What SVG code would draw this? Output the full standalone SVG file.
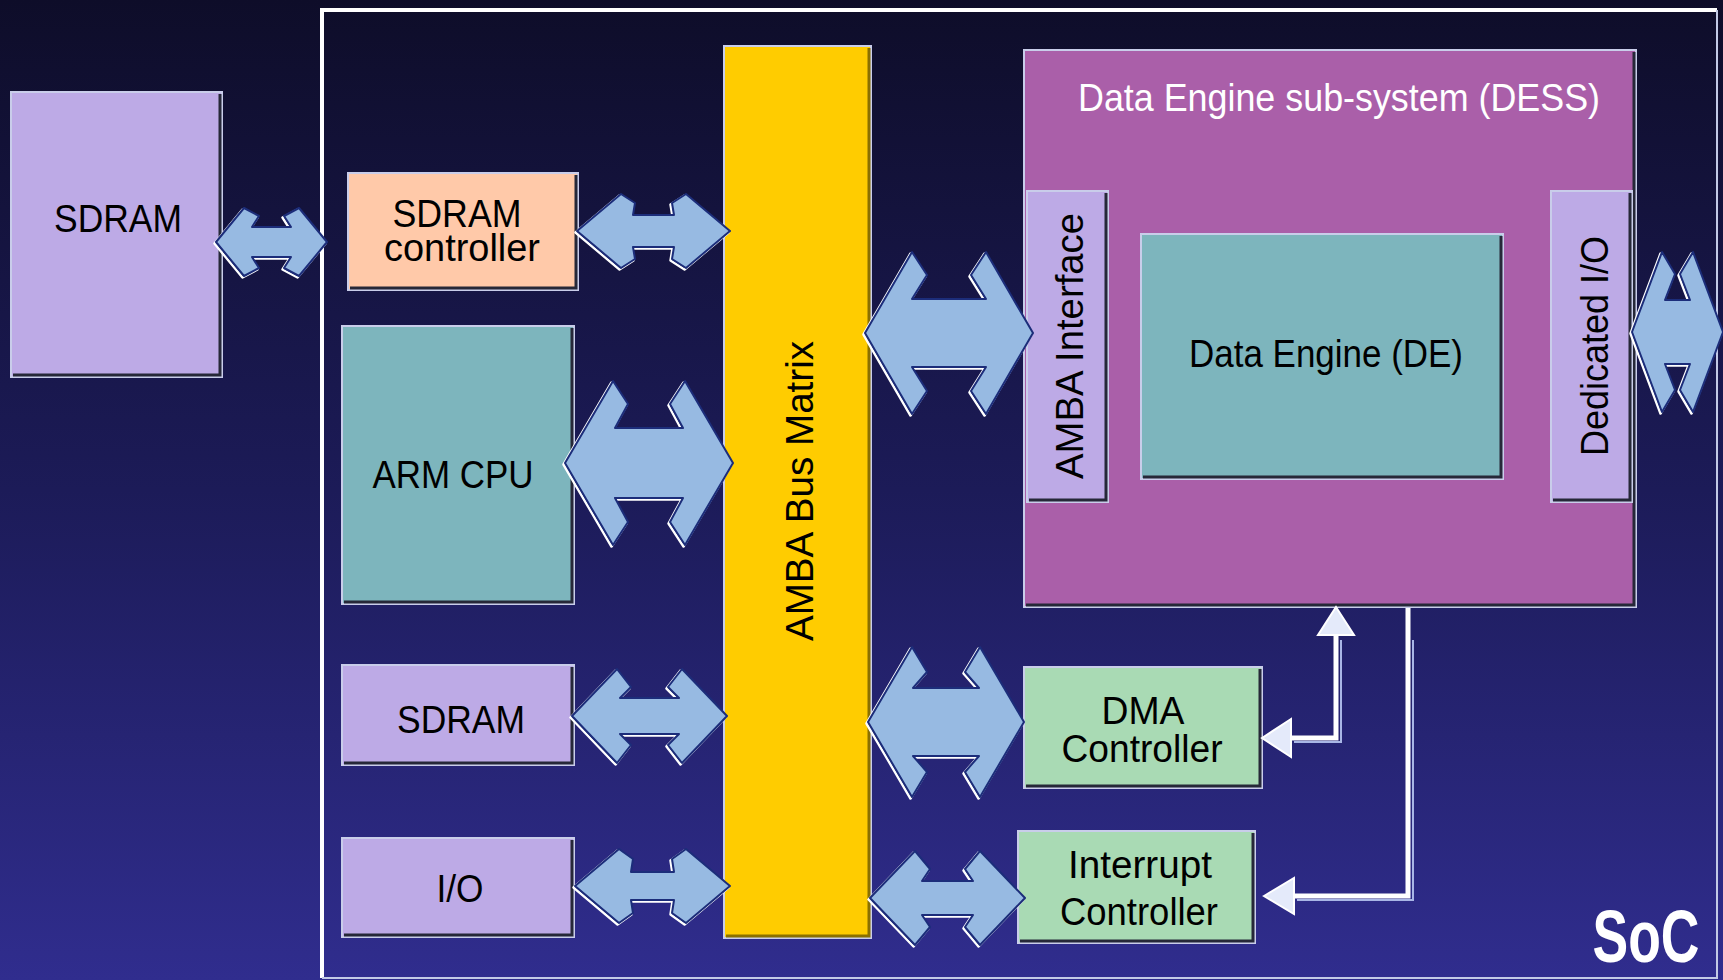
<svg xmlns="http://www.w3.org/2000/svg" xmlns:xlink="http://www.w3.org/1999/xlink" width="1723" height="980" viewBox="0 0 1723 980">
<defs>
<linearGradient id="bg" x1="0" y1="0" x2="0" y2="1">
<stop offset="0" stop-color="#0e0d29"/>
<stop offset="0.5" stop-color="#1c1b58"/>
<stop offset="1" stop-color="#302d8e"/>
</linearGradient>
<polygon id="a1" points="327,242 299,208 284,216 291,227 252,227 259,216 244,208 216,242 244,276 259,268 252,257 291,257 284,268 299,276"/>
<polygon id="a2" points="730,231 686,194 672,203 674,215 633,215 635,203 621,194 577,231 621,268 635,259 633,247 674,247 672,259 686,268"/>
<polygon id="a3" points="733,463 685,381 670,404 683,428 615,428 628,404 613,381 565,463 613,545 628,522 615,498 683,498 670,522 685,545"/>
<polygon id="a4" points="727,716 682,669 668,687 679,698 620,698 631,687 617,669 572,716 617,763 631,745 620,734 679,734 668,745 682,763"/>
<polygon id="a5" points="730,886 686,849 672,859 674,872 631,872 633,859 619,849 575,886 619,923 633,913 631,900 674,900 672,913 686,923"/>
<polygon id="a6" points="1033,333 986,252 971,275 986,299 912,299 927,275 912,252 865,333 912,414 927,391 912,367 986,367 971,391 986,414"/>
<polygon id="a7" points="1723,332 1693,252 1680,274 1690,300 1665,300 1675,274 1662,252 1632,332 1662,412 1675,390 1665,364 1690,364 1680,390 1693,412"/>
<polygon id="a8" points="1024,722 980,647 965,672 979,688 913,688 927,672 912,647 868,722 912,797 927,772 913,756 979,756 965,772 980,797"/>
<polygon id="a9" points="1025,898 980,851 965,869 973,881 922,881 930,869 915,851 870,898 915,945 930,927 922,915 973,915 965,927 980,945"/>
</defs>
<style>
.box{stroke:#c9cdea;stroke-width:2}
.shd{fill:none;stroke:#262838;stroke-width:3}
.lav{fill:#bdaae6}
.teal{fill:#7db5bd}
.peach{fill:#ffc9a9}
.green{fill:#a9dab4}
.t{font-family:"Liberation Sans",Arial,sans-serif;font-size:38px;fill:#000;text-anchor:middle}
.w{fill:#fff}
.halo{fill:none;stroke:#ffffff;stroke-width:2.5;stroke-linejoin:round}
.bus{fill:#97bae2;stroke:#1c2d7a;stroke-width:2;stroke-linejoin:round}
.wire{fill:none;stroke:#ffffff;stroke-width:5}
.wsh{fill:none;stroke:#a9b6e6;stroke-width:2}
.head{fill:#e4eafa;stroke:#ffffff;stroke-width:2;stroke-linejoin:miter}
</style>
<rect x="0" y="0" width="1723" height="980" fill="url(#bg)"/>

<g id="soc">
<path d="M322 978 V10 H1717" fill="none" stroke="#ffffff" stroke-width="4"/>
<path d="M1717 10 V978 H322" fill="none" stroke="#c3cae6" stroke-width="2"/>
<text x="1646" y="962" font-family="Liberation Sans, Arial, sans-serif" font-weight="bold" font-size="74" fill="#ffffff" text-anchor="middle" textLength="107" lengthAdjust="spacingAndGlyphs">SoC</text>
</g>

<g id="sdram-ext">
<rect class="box lav" x="11" y="92" width="211" height="285"/>
<path class="shd" d="M13 375 H220 V94"/>
<text class="t" x="118" y="232" font-size="40" textLength="128" lengthAdjust="spacingAndGlyphs">SDRAM</text>
</g>

<g id="sdram-ctrl">
<rect class="box peach" x="348" y="173" width="230" height="117"/>
<path class="shd" d="M350 288 H576 V175"/>
<text class="t" font-size="35"><tspan x="457" y="227" textLength="129" lengthAdjust="spacingAndGlyphs">SDRAM</tspan><tspan x="462" y="261" textLength="156" lengthAdjust="spacingAndGlyphs">controller</tspan></text>
</g>

<g id="arm-cpu">
<rect class="box teal" x="342" y="326" width="232" height="278"/>
<path class="shd" d="M344 602 H572 V328"/>
<text class="t" x="453" y="488" font-size="41" textLength="161" lengthAdjust="spacingAndGlyphs">ARM CPU</text>
</g>

<g id="sdram-int">
<rect class="box lav" x="342" y="665" width="232" height="100"/>
<path class="shd" d="M344 763 H572 V667"/>
<text class="t" x="461" y="733" font-size="41" textLength="128" lengthAdjust="spacingAndGlyphs">SDRAM</text>
</g>

<g id="io">
<rect class="box lav" x="342" y="838" width="232" height="99"/>
<path class="shd" d="M344 935 H572 V840"/>
<text class="t" x="460" y="902" font-size="40" textLength="47" lengthAdjust="spacingAndGlyphs">I/O</text>
</g>

<g id="amba-bus">
<rect class="box" fill="#ffcc00" x="724" y="46" width="147" height="892"/>
<path d="M726 936 H869 V48" fill="none" stroke="#8a7000" stroke-width="3"/>
<text class="t" x="813" y="491" font-size="40" transform="rotate(-90 813 491)" textLength="300" lengthAdjust="spacingAndGlyphs">AMBA Bus Matrix</text>
</g>

<g id="dess">
<rect class="box" fill="#aa5fa9" x="1024" y="50" width="612" height="557"/>
<path class="shd" d="M1026 605 H1634 V52"/>
<text class="t w" x="1339" y="111" font-size="39" textLength="522" lengthAdjust="spacingAndGlyphs">Data Engine sub-system (DESS)</text>
</g>

<g id="amba-if">
<rect class="box lav" x="1027" y="191" width="81" height="311"/>
<path class="shd" d="M1029 500 H1106 V193"/>
<text class="t" x="1083" y="346" font-size="41" transform="rotate(-90 1083 346)" textLength="266" lengthAdjust="spacingAndGlyphs">AMBA Interface</text>
</g>

<g id="de">
<rect class="box teal" x="1141" y="234" width="362" height="245"/>
<path class="shd" d="M1143 477 H1501 V236"/>
<text class="t" x="1326" y="367" font-size="38" textLength="274" lengthAdjust="spacingAndGlyphs">Data Engine (DE)</text>
</g>

<g id="ded-io">
<rect class="box lav" x="1551" y="191" width="81" height="311"/>
<path class="shd" d="M1553 500 H1630 V193"/>
<text class="t" x="1608" y="346" font-size="40" transform="rotate(-90 1608 346)" textLength="220" lengthAdjust="spacingAndGlyphs">Dedicated I/O</text>
</g>

<g id="dma">
<rect class="box green" x="1024" y="667" width="238" height="121"/>
<path class="shd" d="M1026 786 H1260 V669"/>
<text class="t" font-size="37"><tspan x="1143" y="724" textLength="83" lengthAdjust="spacingAndGlyphs">DMA</tspan><tspan x="1142" y="762" textLength="161" lengthAdjust="spacingAndGlyphs">Controller</tspan></text>
</g>

<g id="intc">
<rect class="box green" x="1018" y="831" width="237" height="112"/>
<path class="shd" d="M1020 941 H1253 V833"/>
<text class="t" font-size="38"><tspan x="1140" y="878" textLength="144" lengthAdjust="spacingAndGlyphs">Interrupt</tspan><tspan x="1139" y="925" textLength="158" lengthAdjust="spacingAndGlyphs">Controller</tspan></text>
</g>

<g id="connectors">
<use xlink:href="#a1" class="halo" transform="translate(-1.5 1.5)"/><use xlink:href="#a1" class="bus"/>
<use xlink:href="#a2" class="halo" transform="translate(-1.5 1.5)"/><use xlink:href="#a2" class="bus"/>
<use xlink:href="#a3" class="halo" transform="translate(-1.5 1.5)"/><use xlink:href="#a3" class="bus"/>
<use xlink:href="#a4" class="halo" transform="translate(-1.5 1.5)"/><use xlink:href="#a4" class="bus"/>
<use xlink:href="#a5" class="halo" transform="translate(-1.5 1.5)"/><use xlink:href="#a5" class="bus"/>
<use xlink:href="#a6" class="halo" transform="translate(-1.5 1.5)"/><use xlink:href="#a6" class="bus"/>
<use xlink:href="#a7" class="halo" transform="translate(-1.5 1.5)"/><use xlink:href="#a7" class="bus"/>
<use xlink:href="#a8" class="halo" transform="translate(-1.5 1.5)"/><use xlink:href="#a8" class="bus"/>
<use xlink:href="#a9" class="halo" transform="translate(-1.5 1.5)"/><use xlink:href="#a9" class="bus"/>
<path class="wsh" d="M1294 742 H1341 V640"/>
<path class="wire" d="M1291 738 H1336 V634"/>
<polygon class="head" points="1336,607 1318,635 1354,635"/>
<polygon class="head" points="1262,738 1291,719 1291,757"/>
<path class="wsh" d="M1413 640 V900 H1297"/>
<path class="wire" d="M1408 608 V896 H1294"/>
<polygon class="head" points="1264,896 1294,878 1294,914"/>
</g>
</svg>
